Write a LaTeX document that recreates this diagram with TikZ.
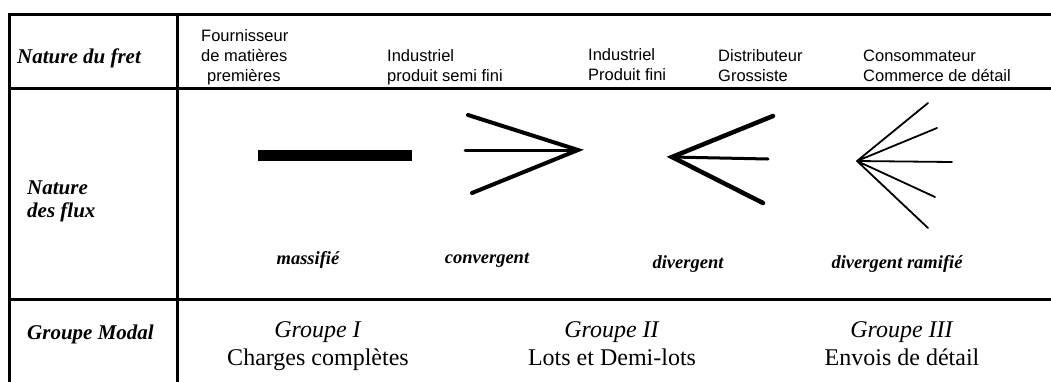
\documentclass[tikz,border=0pt]{standalone}
\usepackage{fontspec}
\setmainfont{Liberation Serif}
\setsansfont{Liberation Sans}
\usepackage{tikz}

\begin{document}
\begin{tikzpicture}[x=1pt,y=-1pt,
    rule/.style={line width=3pt,line cap=rect},
    hdr/.style={anchor=south west,align=left,inner sep=0,text depth=0pt,font=\sffamily\fontsize{16.5}{20}\selectfont},
    side/.style={align=left,inner sep=0,font=\bfseries\itshape\fontsize{21}{23}\selectfont},
    kind/.style={anchor=base,inner sep=0,font=\bfseries\itshape\fontsize{18.5}{20}\selectfont},
    grp/.style={anchor=south,align=center,inner sep=0,text depth=0pt,font=\fontsize{24}{28}\selectfont},
    flow/.style={line width=4pt,line cap=round},
    twig/.style={line width=1.8pt,line cap=round}]
        \useasboundingbox (0,0) rectangle (1051,381);
        % table rules
        \draw[rule] (9,14) -- (1051,14) (9,88) -- (1051,88) (9,299) -- (1051,299);
        \draw[rule] (9,14) -- (9,381) (177,14) -- (177,381);
        % left column
        \node[side,anchor=base west] (fret) at (17,63) {Nature du fret};
        \node[side,anchor=west] (flux) at (27,201) {Nature\\des flux};
        \node[side,anchor=base west] (modal) at (27,339) {Groupe Modal};
        % header row
        \node[hdr] (fourn) at (201,82) {Fournisseur\\de matières\\\hspace{6pt}premières};
        \node[hdr] (semi) at (387,82) {Industriel\\produit semi fini};
        \node[hdr] (fini) at (588,81) {Industriel\\Produit fini};
        \node[hdr] (distr) at (718,82) {Distributeur\\Grossiste};
        \node[hdr] (conso) at (863,82) {Consommateur\\Commerce de détail};
        % flows
        \coordinate (mass1) at (258,155);
        \coordinate (mass2) at (412,155);
        \draw[line width=11pt] (mass1) -- (mass2);
        \coordinate (conv) at (578,150);
        \coordinate (conv1) at (468,115);
        \coordinate (conv2) at (465,150);
        \coordinate (conv3) at (472,193);
        \draw[flow] (conv1) -- (conv) -- (conv3);
        \draw[flow,line width=3pt] (conv2) -- (conv);
        \coordinate (div) at (672,157);
        \coordinate (div1) at (773,116);
        \coordinate (div2) at (768,159);
        \coordinate (div3) at (763,203);
        \draw[flow,line width=4.5pt] (div1) -- (div) -- (div3);
        \draw[flow,line width=3pt] (div) -- (div2);
        \coordinate (ram) at (857,161);
        \coordinate (ram1) at (928,103);
        \coordinate (ram2) at (937,128);
        \coordinate (ram3) at (952,162);
        \coordinate (ram4) at (935,197);
        \coordinate (ram5) at (928,228);
        \draw[twig] (ram) -- (ram1) (ram) -- (ram2) (ram) -- (ram3) (ram) -- (ram4) (ram) -- (ram5);
        \node[kind] (massif) at (308,264) {massifié};
        \node[kind] (convl) at (487,263) {convergent};
        \node[kind] (divl) at (688,268) {divergent};
        \node[kind] (raml) at (897,268) {divergent ramifié};
        % modal groups
        \node[grp] (g1) at (318,366) {\textit{Groupe I}\\Charges complètes};
        \node[grp] (g2) at (612,366) {\textit{Groupe II}\\Lots et Demi-lots};
        \node[grp] (g3) at (902,366) {\textit{Groupe III}\\Envois de détail};
      \end{tikzpicture}
\end{document}
